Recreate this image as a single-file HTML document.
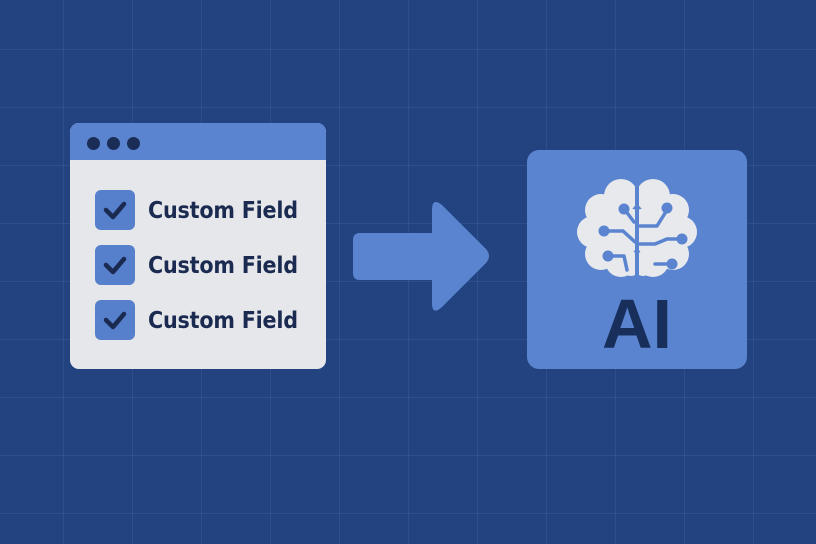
<!DOCTYPE html>
<html><head><meta charset="utf-8"><style>
html,body{margin:0;padding:0}
body{width:816px;height:544px;overflow:hidden;background:#234380;position:relative;font-family:"Liberation Sans","DejaVu Sans",sans-serif}
.grid{position:absolute;inset:0;background-image:linear-gradient(to right,rgba(120,150,210,0.14) 1px,transparent 1px),linear-gradient(to bottom,rgba(120,150,210,0.14) 1px,transparent 1px);background-size:69px 58px;background-position:63px 49px}
.card{position:absolute;left:70px;top:123px;width:256px;height:246px;background:#e6e7ea;border-radius:9px;overflow:hidden}
.hdr{height:37px;background:#5a84d0}
.dot{position:absolute;top:137px;width:13px;height:13px;border-radius:50%;background:#1a2d57}
.cb{position:absolute;left:95px;width:40px;height:40px;border-radius:6px;background:#567fcc}
.cb svg{position:absolute;left:0;top:0}
.lbl{position:absolute;left:148px;font-size:23px;font-weight:bold;color:#1a2a50;font-family:"DejaVu Sans Condensed","DejaVu Sans","Liberation Sans",sans-serif;letter-spacing:-0.2px;line-height:30px}
.ai{position:absolute;left:527px;top:150px;width:220px;height:219px;background:#5a84d0;border-radius:12px}
.ait{position:absolute;left:527px;width:220px;top:289px;line-height:70px;text-align:center;font-weight:bold;font-size:70px;color:#182f5c}
</style></head><body>
<div class="grid"></div>
<div class="card"><div class="hdr"></div></div>
<div class="dot" style="left:87px"></div><div class="dot" style="left:107px"></div><div class="dot" style="left:127px"></div>
<div class="cb" style="top:190px"><svg width="40" height="40"><path d="M11 20 L18 27 L29 14" stroke="#1a2a50" stroke-width="4.5" fill="none" stroke-linecap="round" stroke-linejoin="round"/></svg></div>
<div class="cb" style="top:245px"><svg width="40" height="40"><path d="M11 20 L18 27 L29 14" stroke="#1a2a50" stroke-width="4.5" fill="none" stroke-linecap="round" stroke-linejoin="round"/></svg></div>
<div class="cb" style="top:300px"><svg width="40" height="40"><path d="M11 20 L18 27 L29 14" stroke="#1a2a50" stroke-width="4.5" fill="none" stroke-linecap="round" stroke-linejoin="round"/></svg></div>
<div class="lbl" style="top:196px">Custom Field</div>
<div class="lbl" style="top:251px">Custom Field</div>
<div class="lbl" style="top:306px">Custom Field</div>
<svg style="position:absolute;left:0;top:0" width="816" height="544">
<path d="M360 233 H432 V210 Q432 197 442 205 L486 249 Q492 256 486 263 L442 307 Q432 316 432 303 V280 H360 Q353 280 353 273 V240 Q353 233 360 233 Z" fill="#5a84d0"/>
</svg>
<div class="ai"></div>
<svg style="position:absolute;left:527px;top:150px" width="220" height="140">
<defs>
<clipPath id="cl"><rect x="0" y="0" width="108" height="140"/></clipPath>
<clipPath id="cr"><rect x="112" y="0" width="108" height="140"/></clipPath>
</defs>
<g fill="#e8e9ec" clip-path="url(#cl)">
<circle cx="94" cy="46" r="17"/><circle cx="74" cy="60" r="16"/><circle cx="66" cy="82" r="16"/><circle cx="74" cy="104" r="16"/><circle cx="94" cy="111" r="16"/><circle cx="100" cy="80" r="22"/><circle cx="104" cy="118" r="8"/>
</g>
<g fill="#e8e9ec" clip-path="url(#cr)">
<circle cx="126" cy="46" r="17"/><circle cx="146" cy="60" r="16"/><circle cx="154" cy="82" r="16"/><circle cx="146" cy="104" r="16"/><circle cx="126" cy="111" r="16"/><circle cx="120" cy="80" r="22"/><circle cx="116" cy="118" r="8"/>
</g>
<g stroke="#5a84d0" stroke-width="3.5" fill="none" stroke-linecap="round" stroke-linejoin="round">
<path d="M98 60 L107 72"/><path d="M77 81 L96 81 L108 92"/><path d="M81 106 L97 106 L100 120"/>
<path d="M140 60 L130 76 L113 76"/><path d="M154 89 L140 89 L128 94 L113 94"/><path d="M145 114 L128 114"/>
</g>
<g fill="#5a84d0"><circle cx="97" cy="59" r="5.5"/><circle cx="77" cy="81" r="5.5"/><circle cx="81" cy="106" r="5.5"/><circle cx="140" cy="58" r="5.5"/><circle cx="155" cy="89" r="5.5"/><circle cx="145" cy="114" r="5.5"/></g>
</svg>
<div class="ait">AI</div>
</body></html>
